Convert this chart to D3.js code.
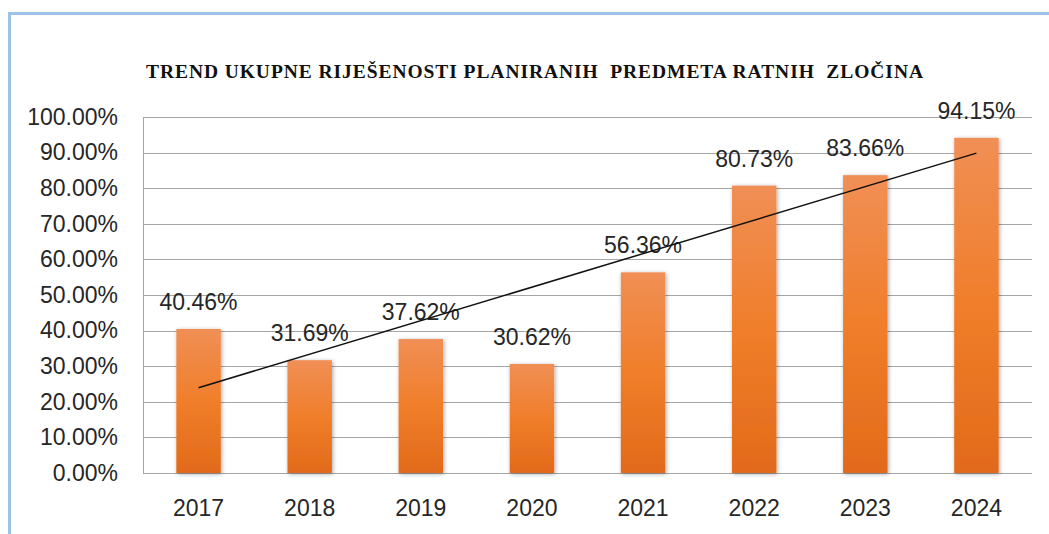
<!DOCTYPE html>
<html>
<head>
<meta charset="utf-8">
<script src="https://cdn.jsdelivr.net/npm/d3@7"></script>
<style>
  body { margin: 0; background: #fff; }
  svg { display: block; }
</style>
</head>
<body>
<script>
// chart data
const titleText = "TREND UKUPNE RIJEŠENOSTI PLANIRANIH  PREDMETA RATNIH  ZLOČINA"
const years = ["2017", "2018", "2019", "2020", "2021", "2022", "2023", "2024"]
const rates = [40.46, 31.69, 37.62, 30.62, 56.36, 80.73, 83.66, 94.15]
const yTicks = [0, 10, 20, 30, 40, 50, 60, 70, 80, 90, 100]

const W = 1049, H = 534
const margin = {top: 117, right: 17, bottom: 61, left: 143}
const width = W - margin.left - margin.right,
      height = H - margin.top - margin.bottom

const svg = d3.select("body").append("svg")
  .attr("width", W)
  .attr("height", H)

// gradient + shadow for bars
const defs = svg.append("defs")
const grad = defs.append("linearGradient")
  .attr("id", "barGrad")
  .attr("x1", 0).attr("y1", 0).attr("x2", 0).attr("y2", 1)
grad.append("stop").attr("offset", "0%").attr("stop-color", "#f08f55")
grad.append("stop").attr("offset", "50%").attr("stop-color", "#f07e2a")
grad.append("stop").attr("offset", "100%").attr("stop-color", "#e26a1a")

const shadow = defs.append("filter")
  .attr("id", "shadow")
  .attr("x", "-30%").attr("y", "-10%").attr("width", "160%").attr("height", "120%")
shadow.append("feGaussianBlur").attr("in", "SourceAlpha").attr("stdDeviation", 2)
shadow.append("feOffset").attr("dx", 1).attr("dy", 1).attr("result", "blur")
shadow.append("feComponentTransfer").append("feFuncA").attr("type", "linear").attr("slope", 0.35)
const merge = shadow.append("feMerge")
merge.append("feMergeNode")
merge.append("feMergeNode").attr("in", "SourceGraphic")

// outer frame (light blue)
svg.append("rect")
  .attr("x", 9.5).attr("y", 13.5)
  .attr("width", W + 20).attr("height", H + 20)
  .attr("fill", "none")
  .attr("stroke", "#9dc3e6")
  .attr("stroke-width", 3)

// title
svg.append("text")
  .attr("x", 146)
  .attr("y", 78)
  .attr("textLength", 777)
  .attr("lengthAdjust", "spacing")
  .style("font-family", "'Liberation Serif', 'Times New Roman', serif")
  .style("font-weight", "bold")
  .style("font-size", "19.5px")
  .style("white-space", "pre")
  .attr("fill", "#111")
  .text(titleText)

const g = svg.append("g")
  .attr("transform", `translate(${margin.left},${margin.top})`)

const x = d3.scaleBand()
  .domain(years)
  .range([0, width])
  .paddingInner(0.6)
  .paddingOuter(0.3)

const y = d3.scaleLinear()
  .domain([0, 100])
  .range([height, 0])

// gridlines
g.append("g")
  .selectAll("line")
  .data(yTicks)
  .enter()
  .append("line")
  .attr("x1", 0).attr("x2", width)
  .attr("y1", d => Math.round(y(d)) + 0.5)
  .attr("y2", d => Math.round(y(d)) + 0.5)
  .attr("stroke", "#a6a6a6")
  .attr("stroke-width", 1)

// left axis line
g.append("line")
  .attr("x1", 0.5).attr("x2", 0.5)
  .attr("y1", 0).attr("y2", height)
  .attr("stroke", "#a6a6a6")

// y axis labels
const yAxis = g.append("g")
  .call(d3.axisLeft(y).tickValues(yTicks).tickSize(0).tickPadding(25)
    .tickFormat(d => d.toFixed(2) + "%"))
yAxis.select(".domain").remove()
yAxis.selectAll("text")
  .style("font-family", "'Liberation Sans', Arial, sans-serif")
  .style("font-size", "23px")
  .attr("fill", "#262626")

// x axis labels
const xAxis = g.append("g")
  .attr("transform", `translate(0,${height})`)
  .call(d3.axisBottom(x).tickSize(0).tickPadding(27))
xAxis.select(".domain").remove()
xAxis.selectAll("text")
  .style("font-family", "'Liberation Sans', Arial, sans-serif")
  .style("font-size", "23px")
  .attr("fill", "#262626")

// bars
g.append("g")
  .selectAll("rect")
  .data(years)
  .enter()
  .append("rect")
  .attr("x", d => x(d))
  .attr("y", (d, i) => y(rates[i]))
  .attr("width", x.bandwidth())
  .attr("height", (d, i) => height - y(rates[i]))
  .attr("fill", "url(#barGrad)")
  .attr("filter", "url(#shadow)")

// data labels
g.append("g")
  .selectAll("text")
  .data(years)
  .enter()
  .append("text")
  .attr("x", d => x(d) + x.bandwidth() / 2)
  .attr("y", (d, i) => y(rates[i]) - 19)
  .attr("text-anchor", "middle")
  .style("font-family", "'Liberation Sans', Arial, sans-serif")
  .style("font-size", "23px")
  .attr("fill", "#262626")
  .text((d, i) => rates[i].toFixed(2) + "%")

// linear trendline (least squares)
const n = rates.length
const xs = d3.range(1, n + 1)
const mx = d3.mean(xs), my = d3.mean(rates)
const slope = d3.sum(xs, (v, i) => (v - mx) * (rates[i] - my)) / d3.sum(xs, v => (v - mx) * (v - mx))
const icpt = my - slope * mx
const trend = [xs[0], xs[n - 1]].map(v => ({year: years[v - 1], val: icpt + slope * v}))

g.append("path")
  .attr("d", d3.line()
    .x(d => x(d.year) + x.bandwidth() / 2)
    .y(d => y(d.val))(trend))
  .attr("fill", "none")
  .attr("stroke", "#111")
  .attr("stroke-width", 1.5)
</script>
</body>
</html>
